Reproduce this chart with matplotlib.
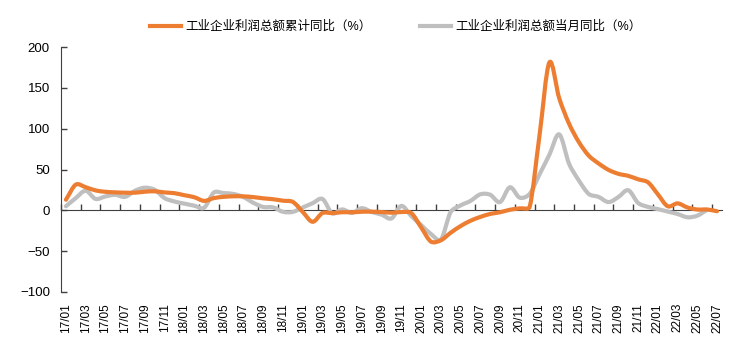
import matplotlib
matplotlib.use("Agg")
from matplotlib import pyplot as plt
from matplotlib.path import Path
from matplotlib.patches import PathPatch
from matplotlib.lines import Line2D
import numpy as np

plt.rcParams['font.family'] = ['Liberation Sans', 'Noto Sans CJK SC', 'DejaVu Sans']

# 月份: 17/01 ~ 22/07
months = [f"{y:02d}/{m:02d}" for y in range(17, 23) for m in range(1, 13)][:67]

# 工业企业利润总额累计同比 (%)
profit_ytd = [
    13.0, 31.5, 28.3, 24.4, 22.7, 22.0, 21.6, 21.6, 22.8, 23.3, 21.9, 21.0,   # 2017
    18.5, 16.1, 11.6, 15.0, 16.5, 17.2, 17.1, 16.2, 14.7, 13.6, 11.8, 10.3,   # 2018
    -1.9, -14.0, -3.3, -3.4, -2.3, -2.4, -1.7, -1.7, -2.1, -2.9, -2.1, -3.3,  # 2019
    -20.8, -38.3, -36.7, -27.4, -19.3, -12.8, -8.1, -4.4, -2.4, 0.7, 2.4, 4.1,  # 2020
    91.5, 181.0, 137.3, 106.0, 83.4, 66.9, 57.3, 49.5, 44.7, 42.2, 38.0, 34.3,  # 2021
    19.6, 5.0, 8.5, 3.5, 1.0, 1.0, -1.1,                                      # 2022
]

# 工业企业利润总额当月同比 (%), 22/07 暂无
profit_mom = [
    5.0, 15.0, 24.0, 14.0, 17.0, 19.0, 16.5, 24.0, 27.7, 25.1, 14.9, 10.8,
    8.2, 5.7, 3.1, 21.9, 21.1, 20.0, 16.2, 9.2, 4.1, 3.6, -1.8, -1.9,
    3.5, 8.7, 13.9, -3.7, 1.1, -3.1, 2.6, -2.0, -5.3, -9.9, 5.4, -7.0,
    -18.0, -29.0, -36.0, -2.0, 6.0, 11.5, 19.6, 19.1, 10.1, 28.2, 15.5, 20.1,
    44.0, 68.0, 93.0, 57.0, 36.4, 20.0, 16.4, 10.1, 16.3, 24.6, 9.0, 4.2,
    1.5, -1.5, -4.5, -8.5, -6.5, 0.8,
]

label_ytd = "工业企业利润总额累计同比（%）"
label_mom = "工业企业利润总额当月同比（%）"
c_ytd = '#ED7D31'
c_mom = '#BFBFBF'


def smooth_path(x, y, sx, sy):
    # 平滑曲线: Catmull-Rom 切线, 控制臂长度不超过相邻线段的 1/3 (像素空间), 避免过冲
    p = np.column_stack([np.asarray(x, float) * sx, np.asarray(y, float) * sy])
    n = len(p)
    arms = []
    for i in range(n):
        a, b = max(i - 1, 0), min(i + 1, n - 1)
        arms.append((p[b] - p[a]) / (6 if b - a == 2 else 3))
    verts = [(x[0], y[0])]
    codes = [Path.MOVETO]
    for i in range(n - 1):
        lim = np.hypot(*(p[i + 1] - p[i])) / 3
        a1, a2 = arms[i], arms[i + 1]
        a1 = a1 * min(1, lim / max(np.hypot(*a1), 1e-9))
        a2 = a2 * min(1, lim / max(np.hypot(*a2), 1e-9))
        c1 = p[i] + a1
        c2 = p[i + 1] - a2
        verts += [(c1[0] / sx, c1[1] / sy), (c2[0] / sx, c2[1] / sy), (x[i + 1], y[i + 1])]
        codes += [Path.CURVE4] * 3
    return Path(verts, codes)


fig = plt.figure(figsize=(7.52, 3.5), dpi=100)
ax_w, ax_h = 722 - 61, 292 - 47
ax = fig.add_axes([61 / 752, 1 - 292 / 350, ax_w / 752, ax_h / 350])

xmin, xmax = -0.5, len(months) - 0.5
ymin, ymax = -100, 200
sx = ax_w / (xmax - xmin)
sy = ax_h / (ymax - ymin)

x_ytd = np.arange(len(profit_ytd))
x_mom = np.arange(len(profit_mom))
ax.add_patch(PathPatch(smooth_path(x_mom, profit_mom, sx, sy), fill=False, edgecolor=c_mom,
                       lw=3, capstyle='round', joinstyle='round', zorder=2))
ax.add_patch(PathPatch(smooth_path(x_ytd, profit_ytd, sx, sy), fill=False, edgecolor=c_ytd,
                       lw=3, capstyle='round', joinstyle='round', zorder=3))

ax.set_xlim(xmin, xmax)
ax.set_ylim(ymin, ymax)
ax.set_yticks(range(-100, 201, 50))
ax.tick_params(axis='y', direction='in', length=4, width=1, color='#404040',
               labelsize=9.5, pad=8)

for s in ['top', 'right']:
    ax.spines[s].set_visible(False)
ax.spines['left'].set_color('#404040')
ax.spines['bottom'].set_position(('data', 0))
ax.spines['bottom'].set_color('#404040')
ax.spines['bottom'].set_zorder(1)

# 零轴上的刻度线 (每两个月)
ax.set_xticks(np.arange(-0.5, len(months), 2))
ax.tick_params(axis='x', direction='in', length=4, width=1, color='#404040',
               labelbottom=False)

# 底部月份标签
sec = ax.secondary_xaxis('bottom')
sec.set_xticks(np.arange(0, len(months), 2))
sec.set_xticklabels(months[::2], rotation=90)
sec.tick_params(length=0, labelsize=8.5, pad=8)
sec.spines['bottom'].set_visible(False)

handles = [Line2D([], [], color=c_ytd, lw=3), Line2D([], [], color=c_mom, lw=3)]
fig.legend(handles, [label_ytd, label_mom], loc='center', bbox_to_anchor=(0.526, 0.923),
           ncol=2, frameon=False, fontsize=9, handlelength=2.5, handletextpad=0.3,
           columnspacing=3.9)

fig.savefig('out.png', dpi=100)
